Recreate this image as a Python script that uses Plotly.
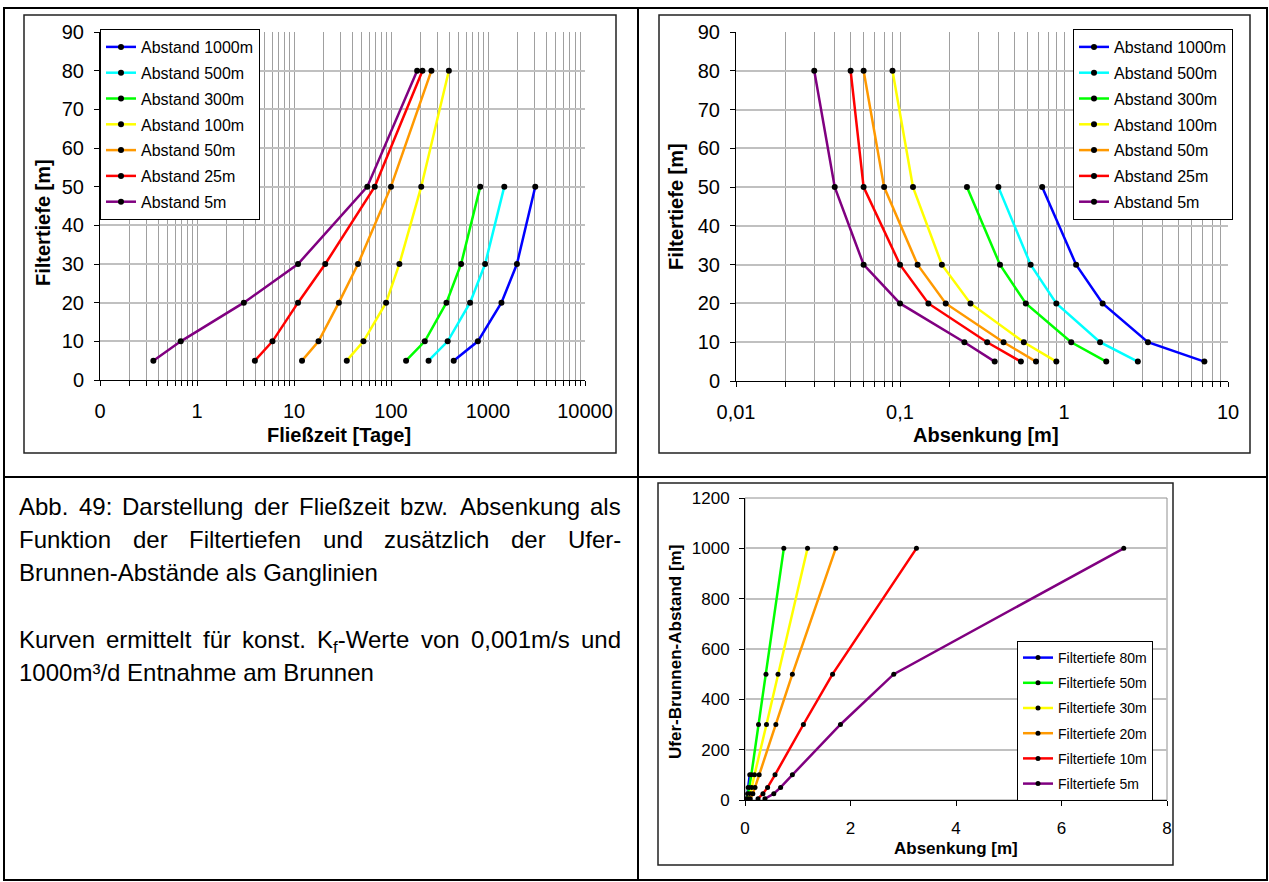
import plotly.graph_objects as go

W, H = 1269, 882
FONT = "Liberation Sans, Arial, sans-serif"

# ---------------- data ----------------
depths = [5, 10, 20, 30, 50, 80]                      # Filtertiefe [m]
distances = [1000, 500, 300, 100, 50, 25, 5]          # Ufer-Brunnen-Abstand [m]
dist_labels = ["Abstand 1000m", "Abstand 500m", "Abstand 300m", "Abstand 100m",
               "Abstand 50m", "Abstand 25m", "Abstand 5m"]
dist_colors = ["#0000ff", "#00ffff", "#00ff00", "#ffff00", "#ff9900", "#ff0000", "#800080"]

# Fließzeit [Tage] at depths 5,10,20,30,50,80
flow_1000 = [443, 786, 1376, 1987, 3070, None]
flow_500 = [244, 384, 653, 934, 1472, None]
flow_300 = [143, 223, 373, 528, 832, None]
flow_100 = [35, 52, 89, 122, 205, 395]
flow_50 = [12.1, 17.9, 29, 45.7, 100, 261]
flow_25 = [3.95, 6.0, 11, 21, 68, 211]
flow_5 = [0.355, 0.68, 3.04, 11, 57, 186]

# Absenkung [m] at depths 5,10,20,30,50,80
sink_1000 = [7.18, 3.25, 1.72, 1.185, 0.736, None]
sink_500 = [2.82, 1.66, 0.898, 0.626, 0.398, None]
sink_300 = [1.81, 1.107, 0.585, 0.407, 0.256, None]
sink_100 = [0.898, 0.569, 0.269, 0.18, 0.12, 0.09]
sink_50 = [0.675, 0.428, 0.19, 0.128, 0.08, 0.06]
sink_25 = [0.546, 0.34, 0.149, 0.1, 0.06, 0.05]
sink_5 = [0.378, 0.247, 0.1, 0.06, 0.04, 0.03]

flows = [flow_1000, flow_500, flow_300, flow_100, flow_50, flow_25, flow_5]
sinks = [sink_1000, sink_500, sink_300, sink_100, sink_50, sink_25, sink_5]

depth_order = [80, 50, 30, 20, 10, 5]
depth_labels = ["Filtertiefe 80m", "Filtertiefe 50m", "Filtertiefe 30m",
                "Filtertiefe 20m", "Filtertiefe 10m", "Filtertiefe 5m"]
depth_colors = ["#0000ff", "#00ff00", "#ffff00", "#ff9900", "#ff0000", "#800080"]

flow_tickvals = [0.1, 1, 10, 100, 1000, 10000]
flow_ticklabels = ["0", "1", "10", "100", "1000", "10000"]
sink_tickvals = [0.01, 0.1, 1, 10]
sink_ticklabels = ["0,01", "0,1", "1", "10"]

caption_para1 = ["Abb. 49: Darstellung der Fließzeit bzw. Absenkung als",
                 "Funktion der Filtertiefen und zusätzlich der Ufer-",
                 "Brunnen-Abstände als Ganglinien"]
caption_para2 = ["Kurven ermittelt für konst. K<sub>f</sub>-Werte von 0,001m/s und",
                 "1000m³/d Entnahme am Brunnen"]

# ---------------- helpers ----------------
def px(x):
    return x / W

def py(y):
    return 1 - y / H

fig = go.Figure()

# chart 1 & 2 traces
for k, (lab, col, fl) in enumerate(zip(dist_labels, dist_colors, flows)):
    fig.add_trace(go.Scatter(x=fl, y=depths, mode="lines+markers", name=lab,
                             line=dict(color=col, width=2.5),
                             marker=dict(color="black", size=6),
                             legendgroup=f"a{k}",
                             xaxis="x", yaxis="y", legend="legend"))
for k, (lab, col, sk) in enumerate(zip(dist_labels, dist_colors, sinks)):
    fig.add_trace(go.Scatter(x=sk, y=depths, mode="lines+markers", name=lab,
                             line=dict(color=col, width=2.5),
                             marker=dict(color="black", size=6),
                             legendgroup=f"b{k}",
                             xaxis="x2", yaxis="y2", legend="legend2"))

# chart 3 traces (pivot of the same data)
dist_asc = list(reversed(distances))
sinks_asc = list(reversed(sinks))
for k, (d, lab, col) in enumerate(zip(depth_order, depth_labels, depth_colors)):
    i = depths.index(d)
    xs, ys = [], []
    for dist, s in zip(dist_asc, sinks_asc):
        if s[i] is not None:
            xs.append(s[i])
            ys.append(dist)
    fig.add_trace(go.Scatter(x=xs, y=ys, mode="lines+markers", name=lab,
                             line=dict(color=col, width=2.5),
                             marker=dict(color="black", size=5),
                             legendgroup=f"c{k}",
                             xaxis="x3", yaxis="y3", legend="legend3"))

# ---------------- axes ----------------
def minor_vals(majors):
    return [m * v for v in majors[:-1] for m in range(2, 10)]

GRIDV = "#a0a0a0"
common_x = dict(showline=True, linecolor="black", linewidth=1, ticks="outside",
                ticklen=5, tickcolor="black", zeroline=False, automargin=False,
                tickangle=0, tickfont=dict(family=FONT, size=20, color="black"))
common_y = dict(showline=True, linecolor="black", linewidth=1, ticks="outside",
                ticklen=5, tickcolor="black", zeroline=False, automargin=False,
                tickfont=dict(family=FONT, size=20, color="black"),
                showgrid=True, gridcolor="#c0c0c0", gridwidth=2)

def minor_cfg(majors):
    return dict(tickmode="array", tickvals=minor_vals(majors), ticks="outside",
                ticklen=5, tickcolor="black", showgrid=True,
                gridcolor=GRIDV, gridwidth=1)

fig.update_layout(
    xaxis=dict(domain=[px(100), px(585)], type="log", range=[-1, 4],
               tickmode="array", tickvals=flow_tickvals, ticktext=flow_ticklabels,
               anchor="y", showgrid=True, gridcolor=GRIDV, gridwidth=1,
               minor=minor_cfg(flow_tickvals), ticklabelstandoff=8, **common_x),
    yaxis=dict(domain=[py(380), py(32)], range=[0, 90], dtick=10, anchor="x",
               ticklabelstandoff=6, **common_y),
    xaxis2=dict(domain=[px(736), px(1228)], type="log", range=[-2, 1],
                tickmode="array", tickvals=sink_tickvals, ticktext=sink_ticklabels,
                anchor="y2", showgrid=True, gridcolor=GRIDV, gridwidth=1,
                minor=minor_cfg(sink_tickvals), ticklabelstandoff=8, **common_x),
    yaxis2=dict(domain=[py(381), py(32)], range=[0, 90], dtick=10, anchor="x2",
                ticklabelstandoff=6, **common_y),
)
cx3 = dict(common_x); cx3["tickfont"] = dict(family=FONT, size=17, color="black")
cy3 = dict(common_y); cy3["tickfont"] = dict(family=FONT, size=17, color="black")
cy3["gridwidth"] = 1.5
fig.update_layout(
    xaxis3=dict(domain=[px(745), px(1167)], range=[0, 8], dtick=2, anchor="y3",
                showgrid=False, ticklabelstandoff=8, **cx3),
    yaxis3=dict(domain=[py(800), py(498)], range=[0, 1200], dtick=200, anchor="x3",
                ticklabelstandoff=6, **cy3),
)

leg_common = dict(xanchor="left", yanchor="top", bgcolor="white",
                  bordercolor="black", borderwidth=1, itemwidth=30,
                  traceorder="grouped", itemclick=False, itemdoubleclick=False)
fig.update_layout(
    legend=dict(x=px(100), y=py(29), tracegroupgap=2,
                font=dict(family=FONT, size=16, color="black"), **leg_common),
    legend2=dict(x=px(1073), y=py(29), tracegroupgap=2,
                 font=dict(family=FONT, size=16, color="black"), **leg_common),
    legend3=dict(x=px(1017), y=py(641), tracegroupgap=4,
                 font=dict(family=FONT, size=14, color="black"), **leg_common),
)

# ---------------- shapes: table and frames ----------------
shapes = []
def rect(x0, y0, x1, y1, color, width, layer="above"):
    shapes.append(dict(type="rect", xref="paper", yref="paper",
                       x0=px(x0), x1=px(x1), y0=py(y1), y1=py(y0),
                       line=dict(color=color, width=width), layer=layer))
def line(x0, y0, x1, y1, color, width):
    shapes.append(dict(type="line", xref="paper", yref="paper",
                       x0=px(x0), x1=px(x1), y0=py(y0), y1=py(y1),
                       line=dict(color=color, width=width)))

rect(4, 8, 1267, 880, "black", 2)
line(638, 8, 638, 880, "black", 2)
line(4, 477, 1267, 477, "black", 2)
rect(24, 15, 616, 453, "#222222", 1.5)
rect(659, 15, 1250, 453, "#222222", 1.5)
rect(658, 483, 1173, 865, "#222222", 1.5)
rect(745, 498, 1167, 800, "#909090", 1, layer="below")
fig.update_layout(shapes=shapes)

# ---------------- annotations ----------------
ann = []
def text(x, y, s, size, bold=False, angle=0, xanchor="center", yanchor="middle"):
    ann.append(dict(x=px(x), y=py(y), xref="paper", yref="paper", showarrow=False,
                    text=f"<b>{s}</b>" if bold else s, textangle=angle,
                    xanchor=xanchor, yanchor=yanchor,
                    font=dict(family=FONT, size=size, color="black")))

text(339, 435, "Fließzeit [Tage]", 20, bold=True)
text(43, 223, "Filtertiefe [m]", 20, bold=True, angle=-90)
text(986, 435, "Absenkung [m]", 20, bold=True)
text(676, 207, "Filtertiefe [m]", 20, bold=True, angle=-90)
text(956, 848, "Absenkung [m]", 17, bold=True)
text(675, 652, "Ufer-Brunnen-Abstand [m]", 17, bold=True, angle=-90)

# caption with justified lines (Arial metrics)
AW = {' ': 278, '.': 278, ':': 278, ',': 278, '-': 333, '/': 278, '³': 333,
      'A': 667, 'B': 667, 'D': 722, 'E': 667, 'F': 611, 'G': 778, 'K': 667,
      'U': 722, 'W': 944, 'a': 556, 'b': 556, 'c': 500, 'd': 556, 'e': 556,
      'f': 278, 'g': 556, 'h': 556, 'i': 222, 'k': 500, 'l': 222, 'm': 833,
      'n': 556, 'o': 556, 'r': 333, 's': 500, 't': 278, 'u': 556, 'v': 500,
      'w': 722, 'z': 500, 'ä': 556, 'ü': 556, 'ß': 611}
CAP = 24
TOPOFF = 16  # line centre -> top of text box

def wwidth(w):
    w2 = w.replace("<sub>f</sub>", "")
    extra = 278 * 0.7 if "<sub>" in w else 0
    return (sum(AW.get(c, 556) for c in w2) + extra) / 1000 * CAP

def justified(s, y, x0=19, x1=621):
    words = s.split(" ")
    widths = [wwidth(w) for w in words]
    gap = (x1 - x0 - sum(widths)) / (len(words) - 1)
    x = x0
    for w, wd in zip(words, widths):
        text(x - 2, y - TOPOFF, w, CAP, xanchor="left", yanchor="top")
        x += wd + gap

justified(caption_para1[0], 507)
justified(caption_para1[1], 540)
text(17, 573 - TOPOFF, caption_para1[2], CAP, xanchor="left", yanchor="top")
justified(caption_para2[0], 640)
text(17, 673 - TOPOFF, caption_para2[1], CAP, xanchor="left", yanchor="top")

fig.update_layout(annotations=ann, width=W, height=H,
                  margin=dict(l=0, r=0, t=0, b=0, pad=0, autoexpand=False),
                  paper_bgcolor="white", plot_bgcolor="white",
                  font=dict(family=FONT, color="black"))

fig.write_html("out.html", config={"displayModeBar": False},
               post_script="document.body.style.margin='0';")
